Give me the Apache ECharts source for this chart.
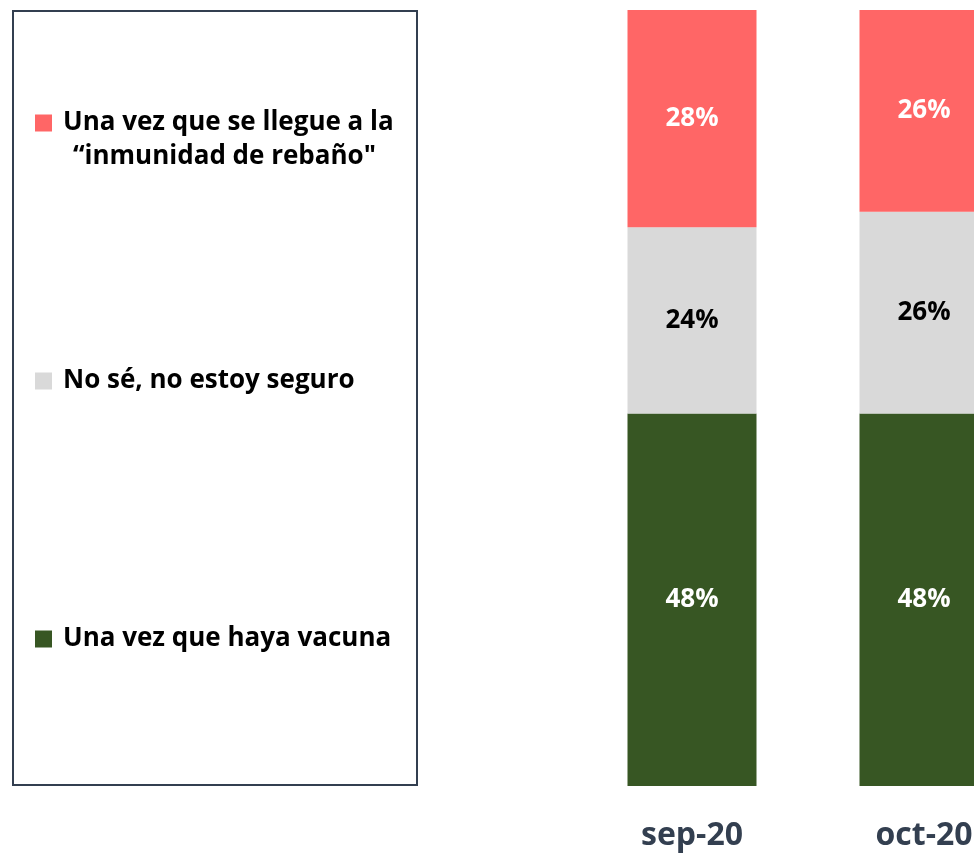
<!DOCTYPE html>
<html>
<head>
<meta charset="utf-8">
<script src="https://cdn.jsdelivr.net/npm/echarts@6/dist/echarts.min.js"></script>
<style>
  html, body { margin: 0; padding: 0; background: #fff; overflow: hidden; }
  /* the original chart is cut at the right edge, so the canvas is wider than the window */
  #container { width: 1040px; height: 854px; }
</style>
</head>
<body>
<div id="container"></div>
<script>
// 数据
var categories = ['sep-20', 'oct-20'];
var seriesNames = ['Una vez que haya vacuna', 'No sé, no estoy seguro', 'Una vez que se llegue a la “inmunidad de rebaño"'];
var vacunaValues = [48, 48];
var noSeValues = [24, 26];
var rebanoValues = [28, 26];

var FONT = '"Open Sans", "Noto Sans", sans-serif';

var myChart = echarts.init(document.getElementById('container'));

function legendItem(name, top, fmt) {
    return {
        data: [name],
        left: 35,
        top: top,
        orient: 'vertical',
        padding: 0,
        icon: 'rect',
        itemWidth: 17,
        itemHeight: 17,
        selectedMode: false,
        formatter: fmt || '{name}',
        textStyle: {
            fontFamily: FONT,
            fontSize: 26,
            fontWeight: 'bold',
            color: '#000',
            padding: [0, 0, 0, 6]
        }
    };
}

function barLabel(color) {
    return {
        show: true,
        position: 'inside',
        formatter: '{c}%',
        fontFamily: FONT,
        fontSize: 26,
        fontWeight: 'bold',
        color: color
    };
}

var option = {
    animation: false,
    grid: {
        left: 576,
        right: 0,
        top: 10,
        bottom: 68
    },
    legend: [
        legendItem(seriesNames[2], 110, 'Una vez que se llegue a la'),
        legendItem(seriesNames[1], 368),
        legendItem(seriesNames[0], 626)
    ],
    graphic: [
        {
            type: 'rect',
            shape: { x: 13, y: 11, width: 404, height: 774 },
            style: { fill: 'none', stroke: '#333F50', lineWidth: 2 },
            z: 0
        },
        {
            type: 'text',
            left: 73,
            top: 144,
            style: {
                text: '“inmunidad de rebaño"',
                font: 'bold 26px ' + FONT,
                fill: '#000'
            }
        }
    ],
    xAxis: {
        type: 'category',
        data: categories,
        axisLine: { show: false },
        axisTick: { show: false },
        axisLabel: {
            margin: 34,
            fontFamily: FONT,
            fontSize: 32,
            fontWeight: 'bold',
            color: '#333F50'
        }
    },
    yAxis: {
        type: 'value',
        min: 0,
        max: 100,
        show: false
    },
    series: [
        {
            name: seriesNames[0],
            type: 'bar',
            stack: 'total',
            barWidth: 129,
            data: vacunaValues,
            itemStyle: { color: '#375623' },
            label: barLabel('#fff')
        },
        {
            name: seriesNames[1],
            type: 'bar',
            stack: 'total',
            barWidth: 129,
            data: noSeValues,
            itemStyle: { color: '#D9D9D9' },
            label: barLabel('#000')
        },
        {
            name: seriesNames[2],
            type: 'bar',
            stack: 'total',
            barWidth: 129,
            data: rebanoValues,
            itemStyle: { color: '#FF6666' },
            label: barLabel('#fff')
        }
    ]
};

myChart.setOption(option);
</script>
</body>
</html>
